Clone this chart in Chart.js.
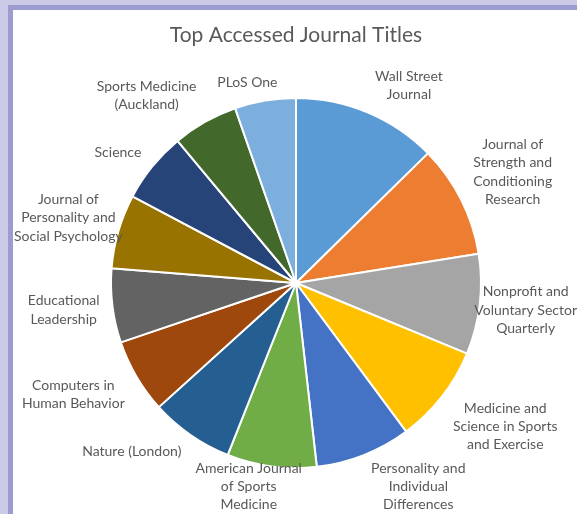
<!DOCTYPE html>
<html>
<head>
<meta charset="utf-8">
<script src="https://cdn.jsdelivr.net/npm/chart.js@4/dist/chart.umd.min.js"></script>
<style>
    html, body { margin: 0; padding: 0; }
    body { width: 577px; height: 514px; background: #cbcbe7; position: relative; overflow: hidden; }
    #frame {
        position: absolute; left: 8px; top: 5px; right: -10px; bottom: -10px;
        background: #ffffff;
        border-left: 5px solid #9c9cd0;
        border-top: 5px solid #9c9cd0;
    }
    #wrap { position: absolute; left: 0; top: 0; width: 577px; height: 514px; }
</style>
</head>
<body>
<div id="frame"></div>
<div id="wrap"><canvas id="pie"></canvas></div>
<script>
    // Data (slice sizes, clockwise from 12 o'clock)
    const titles = [
        ['Wall Street', 'Journal'],
        ['Journal of', 'Strength and', 'Conditioning', 'Research'],
        ['Nonprofit and', 'Voluntary Sector', 'Quarterly'],
        ['Medicine and', 'Science in Sports', 'and Exercise'],
        ['Personality and', 'Individual', 'Differences'],
        ['American Journal', 'of Sports', 'Medicine'],
        ['Nature (London)'],
        ['Computers in', 'Human Behavior'],
        ['Educational', 'Leadership'],
        ['Journal of', 'Personality and', 'Social Psychology'],
        ['Science'],
        ['Sports Medicine', '(Auckland)'],
        ['PLoS One']
    ];
    const accesses = [45.5, 35.4, 31.5, 31.0, 30.1, 28.1, 26.2, 23.4, 23.3, 23.3, 22.3, 20.6, 19.2];
    const sliceColors = [
        '#5b9bd5', '#ed7d31', '#a5a5a5', '#ffc000', '#4472c4', '#70ad47', '#255e91',
        '#9e480e', '#636363', '#997300', '#264478', '#43682b', '#7cafdd'
    ];

    const LABEL_FONT = '14px Lato';
    const LABEL_LINE = 18.4;
    const LABEL_COLOR = '#595959';

    /**
     * Outside labels, placed roughly like Excel's "best fit"
     */
    const outsideLabels = {
        id: 'outsideLabels',
        afterDatasetsDraw(chart) {
            const ctx = chart.ctx;
            const meta = chart.getDatasetMeta(0);
            const W = chart.width, H = chart.height;
            ctx.save();
            ctx.font = LABEL_FONT;
            ctx.fillStyle = LABEL_COLOR;
            ctx.textAlign = 'center';
            ctx.textBaseline = 'middle';
            meta.data.forEach(function(arc, i) {
                const lines = chart.data.labels[i];
                const mid = (arc.startAngle + arc.endAngle) / 2;
                const ux = Math.cos(mid), uy = Math.sin(mid);
                const r = arc.outerRadius + 9;
                const ax = arc.x + ux * r, ay = arc.y + uy * r;
                const w = Math.max.apply(null, lines.map(l => ctx.measureText(l).width));
                const h = lines.length * LABEL_LINE;
                const fx = Math.max(-1, Math.min(1, ux / 0.35));
                const fy = Math.max(-1, Math.min(1, uy / 0.7));
                let cx = ax + fx * (w / 2 + 4);
                let cy = ay + fy * h / 2;
                // keep inside the canvas
                cx = Math.min(W - w / 2, Math.max(w / 2 + 14, cx));
                cy = Math.min(H - h / 2, Math.max(h / 2, cy));
                lines.forEach(function(line, k) {
                    ctx.fillText(line, cx, cy - h / 2 + LABEL_LINE * (k + 0.5));
                });
            });
            ctx.restore();
        }
    };

    const chart = new Chart(document.getElementById('pie'), {
        type: 'pie',
        data: {
            labels: titles,
            datasets: [{
                data: accesses,
                backgroundColor: sliceColors,
                borderColor: '#ffffff',
                borderWidth: 2
            }]
        },
        options: {
            responsive: true,
            maintainAspectRatio: false,
            animation: false,
            layout: {
                padding: { left: 110, right: 95, top: 0, bottom: 45 }
            },
            plugins: {
                legend: { display: false },
                tooltip: { enabled: false },
                title: {
                    display: true,
                    text: 'Top Accessed Journal Titles',
                    color: '#595959',
                    font: { family: 'Lato', size: 21, weight: 'normal' },
                    padding: { top: 23, bottom: 48.8 }
                }
            }
        },
        plugins: [outsideLabels]
    });
</script>
</body>
</html>
